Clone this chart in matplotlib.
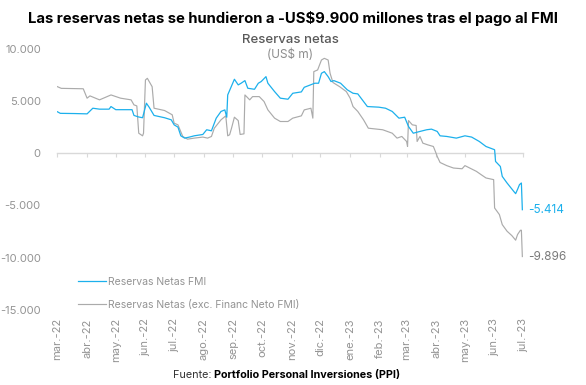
import matplotlib
matplotlib.use("Agg")
import matplotlib.pyplot as plt
from matplotlib.ticker import FuncFormatter
import pandas as pd

plt.rcParams['font.family'] = ['Inter', 'DejaVu Sans']

# ---------------- Data ----------------
blue_dates = [
    "2022-03-01", "2022-03-04", "2022-03-19", "2022-04-01", "2022-04-07", "2022-04-14",
    "2022-04-24", "2022-04-26", "2022-05-01", "2022-05-18", "2022-05-20", "2022-05-25",
    "2022-05-29", "2022-06-02", "2022-06-05", "2022-06-10", "2022-06-21", "2022-06-28",
    "2022-07-01", "2022-07-05", "2022-07-08", "2022-07-12", "2022-07-17", "2022-07-22",
    "2022-07-31", "2022-08-04", "2022-08-09", "2022-08-14", "2022-08-19", "2022-08-23",
    "2022-08-25", "2022-08-26", "2022-09-02", "2022-09-06", "2022-09-09", "2022-09-13",
    "2022-09-16", "2022-09-23", "2022-09-27", "2022-09-30", "2022-10-05", "2022-10-07",
    "2022-10-14", "2022-10-20", "2022-10-28", "2022-11-02", "2022-11-11", "2022-11-14",
    "2022-11-25", "2022-11-29", "2022-12-02", "2022-12-05", "2022-12-09", "2022-12-12",
    "2022-12-15", "2022-12-22", "2022-12-29", "2023-01-04", "2023-01-09", "2023-01-19",
    "2023-01-31", "2023-02-07", "2023-02-14", "2023-02-21", "2023-02-27", "2023-03-03",
    "2023-03-08", "2023-03-15", "2023-03-22", "2023-03-27", "2023-04-02", "2023-04-05",
    "2023-04-12", "2023-04-22", "2023-05-01", "2023-05-08", "2023-05-16", "2023-05-23",
    "2023-06-01", "2023-06-02", "2023-06-07", "2023-06-09", "2023-06-14", "2023-06-21",
    "2023-06-23", "2023-06-25", "2023-06-27", "2023-06-29", "2023-06-30",
]
blue_values = [
    3950, 3800, 3780, 3750, 4290, 4200,
    4200, 4450, 4150, 4150, 3600, 3450,
    3380, 4770, 4370, 3600, 3380, 3180,
    2700, 2480, 1650, 1430, 1530, 1650,
    1780, 2230, 2130, 3340, 3980, 4130,
    3430, 5560, 7060, 6520, 6680, 6930,
    6200, 6100, 6680, 6840, 7310, 6680,
    5880, 5250, 5150, 5720, 5850, 6290,
    6680, 6680, 7630, 7790, 7310, 6840,
    6930, 6680, 6050, 5720, 5660, 4450,
    4390, 4290, 3980, 3340, 3430, 2540,
    1900, 2070, 2230, 2290, 2070, 1650,
    1590, 1430, 1650, 1530, 1110, 630,
    320, -800, -1280, -2230, -2860, -3660,
    -3880, -3470, -3020, -2860, -5414,
]

gray_dates = [
    "2022-03-01", "2022-03-05", "2022-03-28", "2022-04-01", "2022-04-04", "2022-04-14",
    "2022-04-26", "2022-05-06", "2022-05-17", "2022-05-20", "2022-05-23", "2022-05-25",
    "2022-05-29", "2022-05-30", "2022-06-01", "2022-06-03", "2022-06-08", "2022-06-10",
    "2022-06-21", "2022-06-29", "2022-07-01", "2022-07-05", "2022-07-10", "2022-07-15",
    "2022-07-22", "2022-07-31", "2022-08-05", "2022-08-09", "2022-08-12", "2022-08-19",
    "2022-08-24", "2022-08-26", "2022-08-28", "2022-08-30", "2022-09-02", "2022-09-06",
    "2022-09-08", "2022-09-12", "2022-09-13", "2022-09-18", "2022-09-21", "2022-09-28",
    "2022-10-03", "2022-10-07", "2022-10-14", "2022-10-20", "2022-10-28", "2022-11-02",
    "2022-11-11", "2022-11-14", "2022-11-21", "2022-11-23", "2022-11-24", "2022-11-28",
    "2022-12-02", "2022-12-05", "2022-12-09", "2022-12-11", "2022-12-14", "2022-12-21",
    "2022-12-28", "2023-01-01", "2023-01-04", "2023-01-09", "2023-01-15", "2023-01-20",
    "2023-02-04", "2023-02-14", "2023-02-19", "2023-02-24", "2023-03-01", "2023-03-02",
    "2023-03-03", "2023-03-07", "2023-03-11", "2023-03-12", "2023-03-15", "2023-03-18",
    "2023-03-23", "2023-03-29", "2023-04-01", "2023-04-02", "2023-04-05", "2023-04-12",
    "2023-04-19", "2023-04-28", "2023-05-01", "2023-05-06", "2023-05-13", "2023-05-18",
    "2023-05-23", "2023-05-31", "2023-06-01", "2023-06-06", "2023-06-09", "2023-06-14",
    "2023-06-19", "2023-06-23", "2023-06-25", "2023-06-28", "2023-06-29", "2023-06-30",
]
gray_values = [
    6350, 6190, 6150, 5250, 5470, 5090,
    5560, 5250, 5090, 4610, 4510, 1900,
    1650, 1900, 6990, 7150, 6350, 4290,
    4070, 3660, 2860, 2700, 1590, 1330,
    1430, 1530, 1430, 1590, 2380, 3180,
    3560, 1650, 1750, 2380, 3430, 3110,
    1780, 1840, 5560, 5090, 5400, 5400,
    4930, 4130, 3340, 3020, 3020, 3340,
    3560, 4130, 4290, 3340, 7790, 7950,
    8900, 9060, 8900, 7630, 6750, 6350,
    5880, 5250, 4450, 3980, 3180, 2380,
    2230, 1900, 1430, 1590, 1110, 630,
    3110, 2700, 2640, 1110, 1590, 950,
    790, 630, -60, -320, -900, -1200,
    -1430, -1500, -1200, -1430, -1750, -2070,
    -2380, -2540, -5250, -5880, -6840, -7470,
    -7890, -8330, -7790, -7380, -7380, -9896,
]

month_ticks = pd.date_range("2022-03-01", "2023-07-01", freq="MS")
month_names = ["ene.", "feb.", "mar.", "abr.", "may.", "jun.",
               "jul.", "ago.", "sep.", "oct.", "nov.", "dic."]
tick_labels = [f"{month_names[d.month - 1]}-{d.strftime('%y')}" for d in month_ticks]

y_ticks = [-15000, -10000, -5000, 0, 5000, 10000]

blue_label = "Reservas Netas FMI"
gray_label = "Reservas Netas (exc. Financ Neto FMI)"

BLUE = "#1cb0ec"
GRAY = "#ababab"
LABEL_GRAY = "#939393"


def miles(v):
    # 10000 -> "10.000"
    return f"{int(v):,}".replace(",", ".")


# ---------------- Plot ----------------
fig = plt.figure(figsize=(5.86, 3.85), dpi=100)
ax = fig.add_axes([0.098, 0.195, 0.795, 0.679])

bd = pd.to_datetime(blue_dates)
gd = pd.to_datetime(gray_dates)
ax.plot(gd, gray_values, color=GRAY, lw=0.85, label=gray_label, zorder=2)
ax.plot(bd, blue_values, color=BLUE, lw=0.9, label=blue_label, zorder=3)

ax.set_xlim(month_ticks[0], month_ticks[-1])
ax.set_ylim(-15000, 10000)
ax.set_yticks(y_ticks)
ax.yaxis.set_major_formatter(FuncFormatter(lambda v, p: miles(v)))
ax.tick_params(axis="y", length=0, pad=12, labelsize=8, labelcolor=LABEL_GRAY)

for s in ax.spines.values():
    s.set_visible(False)

# month labels at the bottom, no tick marks there
ax.set_xticks(month_ticks)
ax.set_xticklabels(tick_labels, rotation=90)
ax.tick_params(axis="x", length=0, pad=6, labelsize=8, labelcolor=LABEL_GRAY)

# zero axis line with tick marks
zero_ax = ax.secondary_xaxis(0, transform=ax.transData)
zero_ax.set_xticks(month_ticks)
zero_ax.set_xticklabels([])
zero_ax.tick_params(axis="x", length=3, width=0.8, color="#d9d9d9")
zero_ax.spines["bottom"].set_color("#d9d9d9")
zero_ax.spines["bottom"].set_linewidth(1.0)

# end labels
ax.annotate(miles(blue_values[-1]), (bd[-1], blue_values[-1]),
            xytext=(4, 0), textcoords="offset points", va="center", ha="left",
            color=BLUE, fontsize=8.5)
ax.annotate(miles(gray_values[-1]), (gd[-1], gray_values[-1]),
            xytext=(4, 0), textcoords="offset points", va="center", ha="left",
            color="#7a7a7a", fontsize=8.5)

handles, labels = ax.get_legend_handles_labels()
ax.legend(handles[::-1], labels[::-1], loc="lower left", bbox_to_anchor=(0.025, -0.035),
          frameon=False, fontsize=7.5, handlelength=2.6, handletextpad=0.25,
          labelspacing=1.25, labelcolor=LABEL_GRAY)

fig.text(0.5, 0.952, "Las reservas netas se hundieron a -US$9.900 millones tras el pago al FMI",
         ha="center", va="center", fontsize=10.7, fontweight="bold", color="black")
fig.text(0.495, 0.896, "Reservas netas", ha="center", va="center", fontsize=9.5,
         fontweight="medium", color="#595959")
fig.text(0.495, 0.857, "(US$ m)", ha="center", va="center", fontsize=8.5, color="#8c8c8c")

fig.text(0.366, 0.026, "Fuente: ", ha="right", va="center", fontsize=7.8, color="#333333")
fig.text(0.366, 0.026, "Portfolio Personal Inversiones (PPI)", ha="left", va="center",
         fontsize=7.8, fontweight="bold", color="black")

fig.savefig("out.png", dpi=100)
